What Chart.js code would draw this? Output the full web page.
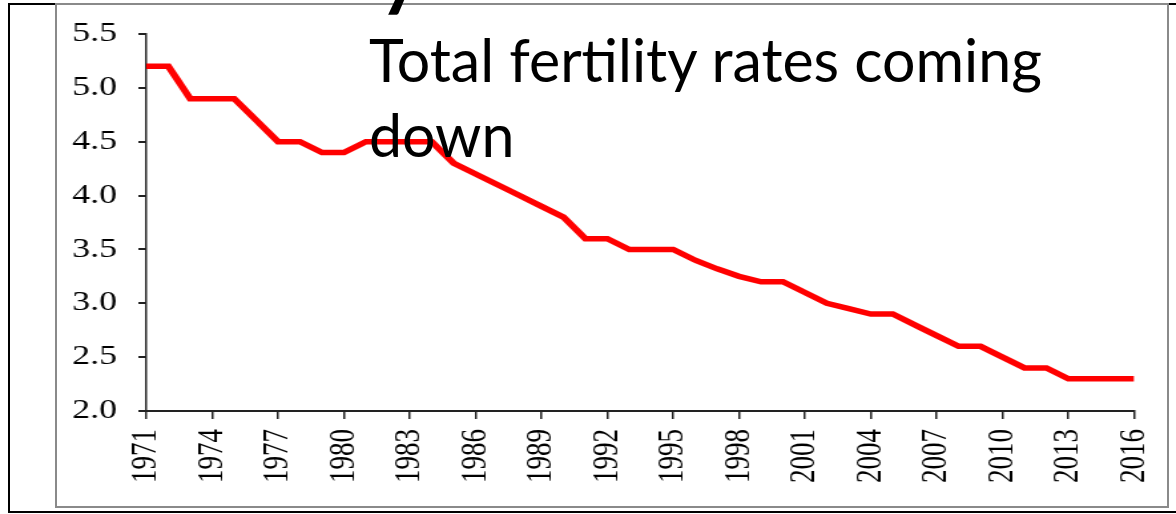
<!DOCTYPE html>
<html>
<head>
<meta charset="utf-8">
<script src="https://cdn.jsdelivr.net/npm/chart.js@4.4.1/dist/chart.umd.min.js"></script>
<style>
  html, body { margin:0; padding:0; background:#fff; width:1176px; height:514px; overflow:hidden; position:relative; }
  #outer { position:absolute; left:8px; top:3px; width:1300px; height:510px; border:2px solid #000; box-sizing:border-box; }
  #inner { position:absolute; left:55px; top:3px; width:1114px; height:505px; border:2px solid #8a8a8a; box-sizing:border-box; }
  #wrap { position:absolute; left:0; top:0; width:884px; height:514px; transform:scaleX(1.3303); transform-origin:0 0; }
  #note { position:absolute; left:369px; top:20px; font-family:Lato, "Open Sans", sans-serif; font-size:54px; line-height:75px; color:#000; white-space:nowrap; }
  #cut { position:absolute; left:379px; top:-70px; font-family:Lato, sans-serif; font-weight:bold; font-size:80px; line-height:80px; color:#000; }
</style>
</head>
<body>
<div id="outer"></div>
<div id="inner"></div>
<div id="wrap"><canvas id="c" width="884" height="514"></canvas></div>
<div id="cut">y</div>
<div id="note"><span id="l1">Total fertility rates coming</span><br>down</div>
<script>
// ---- data ----
const years = [1971,1972,1973,1974,1975,1976,1977,1978,1979,1980,
               1981,1982,1983,1984,1985,1986,1987,1988,1989,1990,
               1991,1992,1993,1994,1995,1996,1997,1998,1999,2000,
               2001,2002,2003,2004,2005,2006,2007,2008,2009,2010,
               2011,2012,2013,2014,2015,2016];
const tfr   = [5.2,5.2,4.9,4.9,4.9,4.7,4.5,4.5,4.4,4.4,
               4.5,4.5,4.5,4.5,4.3,4.2,4.1,4.0,3.9,3.8,
               3.6,3.6,3.5,3.5,3.5,3.4,3.32,3.25,3.2,3.2,
               3.1,3.0,2.95,2.9,2.9,2.8,2.7,2.6,2.6,2.5,
               2.4,2.4,2.3,2.3,2.3,2.3];
const xTickYears = [1971,1974,1977,1980,1983,1986,1989,1992,1995,1998,2001,2004,2007,2010,2013,2016];
const yTickValues = [2.0,2.5,3.0,3.5,4.0,4.5,5.0,5.5];

// ---- text fit ----
(function fitNote(){
  const note = document.getElementById('note');
  const l1 = document.getElementById('l1');
  const target = 673;
  const w = l1.getBoundingClientRect().width;
  let f = 54 * target / w;
  note.style.fontSize = f + 'px';
  const baseline1 = 82;
  note.style.top = (baseline1 - ((75 - 1.2*f)/2 + 0.987*f)) + 'px';
})();

const tickFont = { family: '"Liberation Serif", "Times New Roman", serif', size: 27 };

new Chart(document.getElementById('c'), {
  type: 'line',
  data: {
    datasets: [{
      data: years.map((yr, i) => ({ x: yr, y: tfr[i] })),
      borderColor: '#ff0000',
      borderWidth: 5.5,
      pointRadius: 0,
      tension: 0,
      fill: false
    }]
  },
  options: {
    responsive: false,
    animation: false,
    devicePixelRatio: 1,
    layout: { padding: { left: 0, right: 31.4, top: 34, bottom: 0 } },
    plugins: { legend: { display: false }, tooltip: { enabled: false }, title: { display: false } },
    scales: {
      x: {
        type: 'linear',
        min: 1971, max: 2016,
        afterBuildTicks: s => { s.ticks = xTickYears.map(v => ({ value: v })); },
        afterFit: s => { s.height = 103; s.paddingLeft = 0; s.paddingRight = 0; },
        grid: { drawOnChartArea: false, drawTicks: true, tickLength: 8, color: '#222', lineWidth: 1.5 },
        border: { display: true, color: '#222', width: 2 },
        ticks: { autoSkip: false, minRotation: 90, maxRotation: 90, padding: 10, color: '#000', font: tickFont,
                 callback: v => String(v) }
      },
      y: {
        min: 2, max: 5.5,
        afterBuildTicks: s => { s.ticks = yTickValues.map(v => ({ value: v })); },
        afterFit: s => { s.width = 110; s.paddingTop = 0; s.paddingBottom = 0; },
        grid: { drawOnChartArea: false, drawTicks: true, tickLength: 6, color: '#222', lineWidth: 2 },
        border: { display: true, color: '#222', width: 1.5 },
        ticks: { padding: 16, color: '#000', font: tickFont, callback: v => Number(v).toFixed(1) }
      }
    }
  }
});
</script>
</body>
</html>
